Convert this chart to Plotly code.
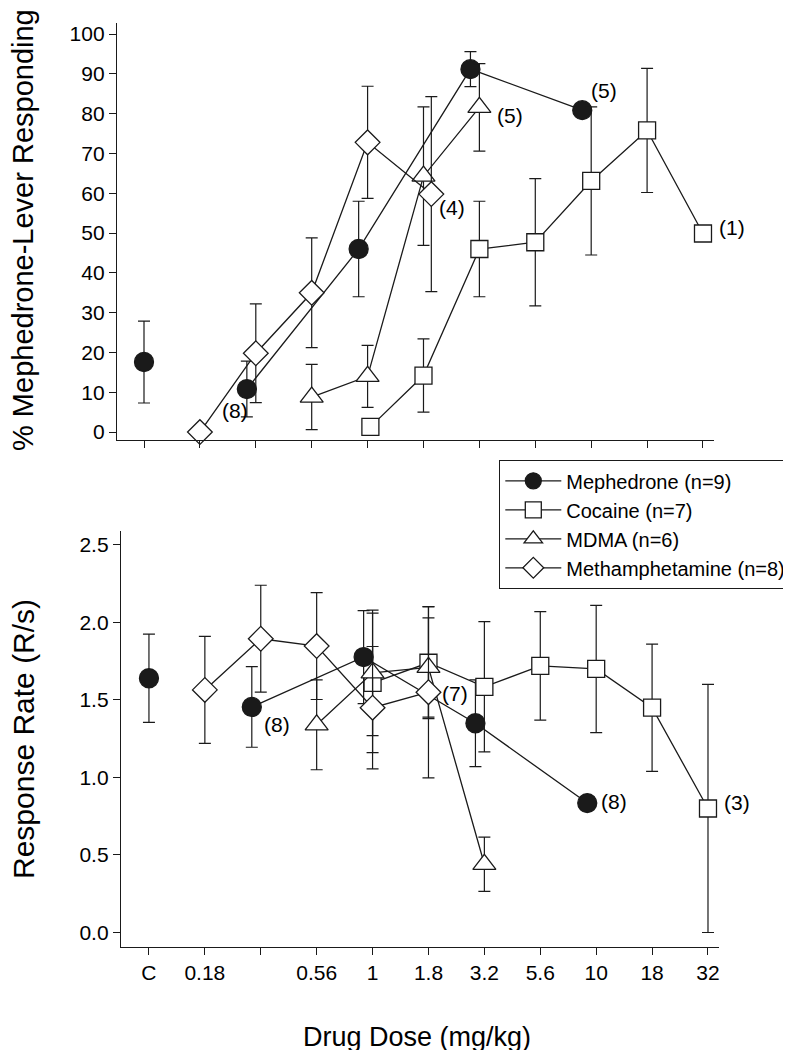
import plotly.graph_objects as go

# ---------------- data ----------------
DOSES = ["C", "0.18", "0.32", "0.56", "1", "1.8", "3.2", "5.6", "10", "18", "32"]
TICK_LABELS = ["C", "0.18", "", "0.56", "1", "1.8", "3.2", "5.6", "10", "18", "32"]

# Top panel: % mephedrone-lever responding (mean, SEM)
meph_ctrl_dose = ["C"]
meph_ctrl_pct = [17.6]
meph_ctrl_pct_err = [10.3]
meph_doses = ["0.32", "1", "3.2", "10"]
meph_pct = [10.8, 46.0, 91.2, 80.9]
meph_pct_err = [7.0, 12.0, 4.4, 0.0]

coc_doses = ["1", "1.8", "3.2", "5.6", "10", "18", "32"]
coc_pct = [1.3, 14.2, 46.0, 47.7, 63.1, 75.8, 49.9]
coc_pct_err = [0.0, 9.2, 12.0, 16.0, 18.6, 15.6, 0.0]

mdma_doses = ["0.56", "1", "1.8", "3.2"]
mdma_pct = [8.8, 14.0, 64.3, 81.6]
mdma_pct_err = [8.2, 7.8, 17.4, 11.0]

meth_doses = ["0.18", "0.32", "0.56", "1", "1.8"]
meth_pct = [0.0, 19.8, 35.0, 72.8, 59.8]
meth_pct_err = [0.0, 12.4, 13.8, 14.1, 24.5]

# Bottom panel: response rate (R/s)
meph_ctrl_rate = [1.64]
meph_ctrl_rate_err = [0.285]
meph_rate = [1.455, 1.777, 1.35, 0.835]
meph_rate_err = [0.26, 0.30, 0.28, 0.0]

coc_rate = [1.61, 1.74, 1.585, 1.72, 1.70, 1.45, 0.80]
coc_rate_err = [0.45, 0.36, 0.42, 0.35, 0.41, 0.41, 0.80]

mdma_rate = [1.34, 1.675, 1.71, 0.44]
mdma_rate_err = [0.29, 0.405, 0.32, 0.175]

meth_rate = [1.565, 1.895, 1.848, 1.45, 1.55]
meth_rate_err = [0.345, 0.345, 0.345, 0.395, 0.553]

series_names = ["Mephedrone (n=9)", "Cocaine (n=7)", "MDMA (n=6)", "Methamphetamine (n=8)"]

# ---------------- style / layout ----------------
W, H = 791, 1050
FONT = "Liberation Sans, Arial, Helvetica, sans-serif"
INK = "#1a1a1a"
LW = 1.3

MEPH_SHIFT = -0.16
TOP_SHIFTS = {"coc": {"1": 0.05}, "meth": {"1.8": 0.14}}

IDX = {d: i for i, d in enumerate(DOSES)}


def xs(doses, base=0.0, special=None):
    special = special or {}
    return [IDX[d] + base + special.get(d, 0.0) for d in doses]


def px_x(p):
    return p / W


def px_y(p):
    return 1 - p / H


STYLES = {
    "meph": dict(symbol="circle", size=19, color=INK),
    "coc": dict(symbol="square", size=17, color="white"),
    "mdma": dict(symbol="triangle-up", size=20, color="white"),
    "meth": dict(symbol="diamond", size=19, color="white"),
}


def err(vals):
    return dict(type="data", array=vals, visible=True, color=INK, thickness=1.2, width=6)


def scatter(x, y, e, key, name, axes, mode="lines+markers", showlegend=False):
    st = STYLES[key]
    return go.Scatter(
        x=x, y=y, error_y=err(e), mode=mode, name=name,
        legendgroup=key, showlegend=showlegend,
        line=dict(color=INK, width=LW),
        marker=dict(symbol=st["symbol"], size=st["size"], color=st["color"],
                    line=dict(color=INK, width=LW)),
        xaxis=axes[0], yaxis=axes[1], cliponaxis=False,
    )


fig = go.Figure()

top = ("x", "y")
bot = ("x2", "y2")

# Top panel traces
fig.add_trace(scatter(xs(meph_doses, MEPH_SHIFT), meph_pct, meph_pct_err, "meph", series_names[0], top, showlegend=True))
fig.add_trace(scatter(xs(meph_ctrl_dose), meph_ctrl_pct, meph_ctrl_pct_err, "meph", series_names[0], top, mode="markers"))
fig.add_trace(scatter(xs(coc_doses, 0, TOP_SHIFTS["coc"]), coc_pct, coc_pct_err, "coc", series_names[1], top, showlegend=True))
fig.add_trace(scatter(xs(mdma_doses), mdma_pct, mdma_pct_err, "mdma", series_names[2], top, showlegend=True))
fig.add_trace(scatter(xs(meth_doses, 0, TOP_SHIFTS["meth"]), meth_pct, meth_pct_err, "meth", series_names[3], top, showlegend=True))

# Bottom panel traces
fig.add_trace(scatter(xs(meph_doses, MEPH_SHIFT), meph_rate, meph_rate_err, "meph", series_names[0], bot))
fig.add_trace(scatter(xs(meph_ctrl_dose), meph_ctrl_rate, meph_ctrl_rate_err, "meph", series_names[0], bot, mode="markers"))
fig.add_trace(scatter(xs(coc_doses), coc_rate, coc_rate_err, "coc", series_names[1], bot))
fig.add_trace(scatter(xs(mdma_doses), mdma_rate, mdma_rate_err, "mdma", series_names[2], bot))
fig.add_trace(scatter(xs(meth_doses), meth_rate, meth_rate_err, "meth", series_names[3], bot))

axis_common = dict(
    showline=True, linecolor=INK, linewidth=LW, ticks="outside", ticklen=7,
    tickwidth=1.2, tickcolor=INK, showgrid=False, zeroline=False,
    tickfont=dict(family=FONT, size=21, color="black"),
)

fig.update_layout(
    width=W, height=H,
    margin=dict(l=0, r=0, t=0, b=0, autoexpand=False),
    paper_bgcolor="white", plot_bgcolor="white",
    font=dict(family=FONT, color="black"),
    showlegend=True,
    xaxis=dict(domain=[px_x(109), px_x(706)], range=[-0.483, 10.197], anchor="y",
               tickvals=list(range(len(DOSES))), showticklabels=False, **axis_common),
    yaxis=dict(domain=[px_y(432), px_y(15)], range=[-2.0, 102.8], anchor="x",
               tickvals=list(range(0, 101, 10)), **axis_common),
    xaxis2=dict(domain=[px_x(113), px_x(711)], range=[-0.50, 10.197], anchor="y2",
                tickvals=list(range(len(DOSES))), ticktext=TICK_LABELS,
                ticklabelstandoff=0, **axis_common),
    yaxis2=dict(domain=[px_y(939), px_y(523)], range=[-0.0935, 2.590], anchor="x2",
                tickvals=[0, 0.5, 1.0, 1.5, 2.0, 2.5], tickformat=".1f", **axis_common),
    legend=dict(
        x=px_x(491), xanchor="left", y=px_y(452), yanchor="top",
        bgcolor="white", bordercolor=INK, borderwidth=1.3,
        font=dict(family=FONT, size=20, color="black"),
        itemwidth=56, tracegroupgap=4, traceorder="normal",
    ),
)

ann_font = dict(family=FONT, size=21, color="black")
# (text, x, y, xref, yref)
point_labels = [
    ("(8)", 1.63, 5.3, "x", "y"),
    ("(5)", 6.55, 79.6, "x", "y"),
    ("(5)", 8.23, 85.9, "x", "y"),
    ("(4)", 5.51, 56.5, "x", "y"),
    ("(1)", px_x(724), 51.5, "paper", "y"),
    ("(8)", 2.29, 1.339, "x2", "y2"),
    ("(7)", 5.47, 1.539, "x2", "y2"),
    ("(8)", 8.32, 0.842, "x2", "y2"),
    ("(3)", px_x(729), 0.837, "paper", "y2"),
]
annotations = []
for t, x, y, xr, yr in point_labels:
    annotations.append(dict(text=t, x=x, y=y, xref=xr, yref=yr, showarrow=False,
                            xanchor="center", yanchor="middle", font=ann_font))

annotations += [
    dict(text="% Mephedrone-Lever Responding", x=px_x(15), y=px_y(222), xref="paper", yref="paper",
         showarrow=False, textangle=-90, xanchor="center", yanchor="middle",
         font=dict(family=FONT, size=29, color="black")),
    dict(text="Response Rate (R/s)", x=px_x(15), y=px_y(731), xref="paper", yref="paper",
         showarrow=False, textangle=-90, xanchor="center", yanchor="middle",
         font=dict(family=FONT, size=30, color="black")),
    dict(text="Drug Dose (mg/kg)", x=px_x(409), y=px_y(1046), xref="paper", yref="paper",
         showarrow=False, xanchor="center", yanchor="bottom",
         font=dict(family=FONT, size=27, color="black")),
]
fig.update_layout(annotations=annotations)

fig.write_html("out.html")
